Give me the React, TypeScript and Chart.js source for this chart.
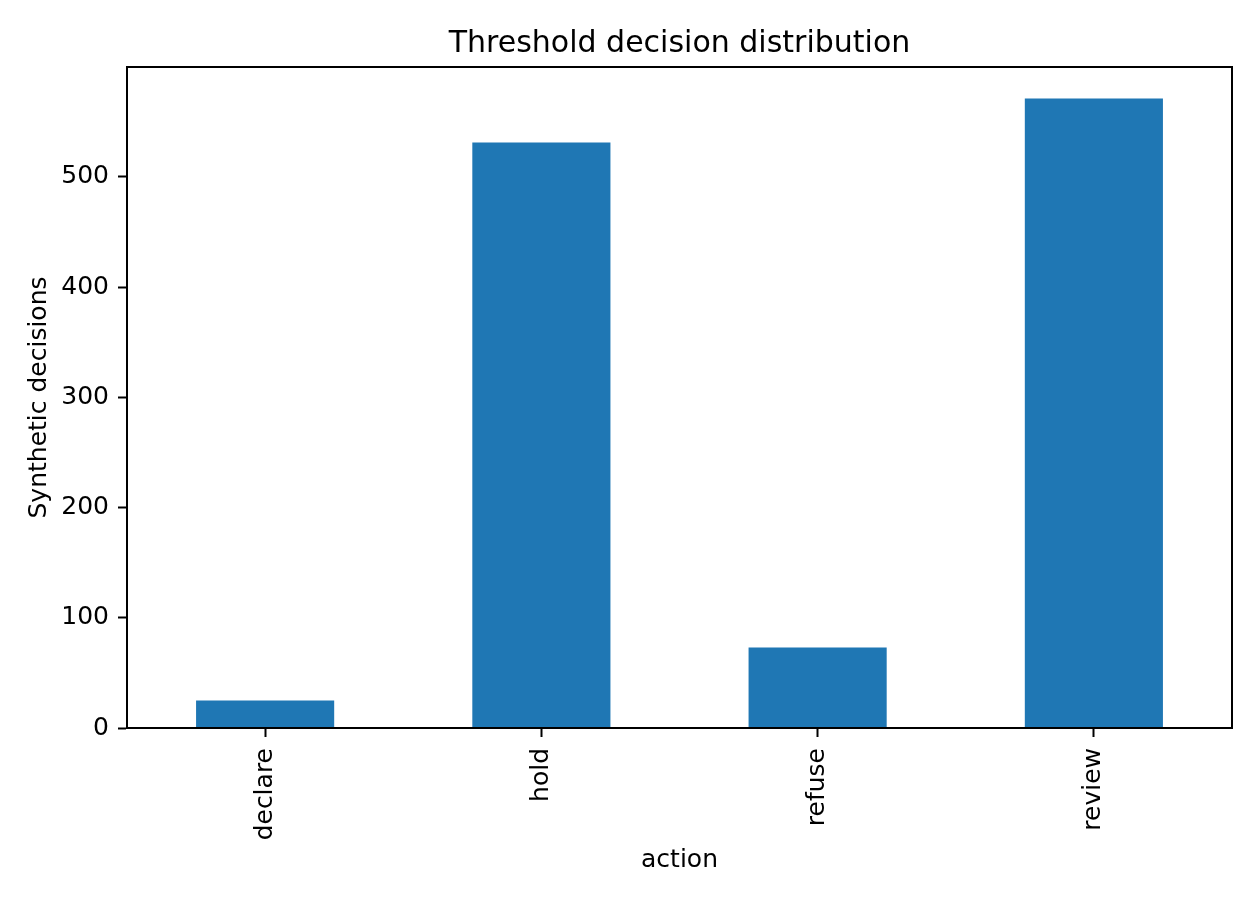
import React, { useEffect, useRef } from "react";
import { Chart, registerables } from "chart.js";

Chart.register(...registerables);

const categories = ["declare", "hold", "refuse", "review"];
const decisionCounts = [25, 531, 73, 571];
const yTickValues = [0, 100, 200, 300, 400, 500];
const yMax = 599.55;

const titleText = "Threshold decision distribution";
const xTitleText = "action";
const yTitleText = "Synthetic decisions";

const FONT = "'DejaVu Sans', sans-serif";

const framePlugin = {
  id: "frameAndTitles",
  afterDraw(chart: any) {
    const { ctx, chartArea } = chart;
    const { left, right, top, bottom } = chartArea;
    ctx.save();
    // axes box
    ctx.strokeStyle = "#000";
    ctx.lineWidth = 2;
    ctx.strokeRect(left, top, right - left, bottom - top);

    ctx.fillStyle = "#000";
    // title
    ctx.font = `30px ${FONT}`;
    ctx.textAlign = "center";
    ctx.textBaseline = "alphabetic";
    ctx.fillText(titleText, (left + right) / 2, 52);

    // x axis title
    ctx.font = `25px ${FONT}`;
    ctx.fillText(xTitleText, (left + right) / 2, 867);

    // y axis title
    ctx.translate(46, (top + bottom) / 2);
    ctx.rotate(-Math.PI / 2);
    ctx.fillText(yTitleText, 0, 0);
    ctx.restore();
  },
};

export default function App() {
  const canvasRef = useRef<HTMLCanvasElement | null>(null);

  useEffect(() => {
    if (!canvasRef.current) return;
    const chart = new Chart(canvasRef.current, {
      type: "bar",
      data: {
        labels: categories,
        datasets: [
          {
            data: decisionCounts,
            backgroundColor: "#1f77b4",
            borderWidth: 0,
            categoryPercentage: 1,
            barPercentage: 0.5,
          },
        ],
      },
      options: {
        responsive: false,
        animation: false,
        layout: { padding: { left: 0, top: 67, right: 28, bottom: 0 } },
        plugins: {
          legend: { display: false },
          title: { display: false },
          tooltip: { enabled: false },
        },
        scales: {
          x: {
            afterFit: (scale: any) => {
              scale.height = 172;
            },
            grid: {
              offset: false,
              drawOnChartArea: false,
              drawTicks: true,
              tickLength: 9,
              tickColor: "#000",
              tickWidth: 2,
            },
            border: { display: true, color: "#000", width: 2 },
            ticks: {
              autoSkip: false,
              minRotation: 90,
              maxRotation: 90,
              padding: 11,
              color: "#000",
              font: { family: FONT, size: 25 },
            },
          },
          y: {
            min: 0,
            max: yMax,
            afterBuildTicks: (scale: any) => {
              scale.ticks = yTickValues.map((v) => ({ value: v }));
            },
            afterFit: (scale: any) => {
              scale.width = 127;
            },
            grid: {
              drawOnChartArea: false,
              drawTicks: true,
              tickLength: 9,
              tickColor: "#000",
              tickWidth: 2,
            },
            border: { display: true, color: "#000", width: 2 },
            ticks: {
              padding: 9,
              color: "#000",
              font: { family: FONT, size: 25 },
              callback: (value: any) => String(value),
            },
          },
        },
      },
      plugins: [framePlugin],
    });
    return () => chart.destroy();
  }, []);

  return (
    <div style={{ position: "fixed", left: 0, top: 0, width: 1260, height: 900, background: "#fff" }}>
      <canvas ref={canvasRef} width={1260} height={900} style={{ display: "block" }} />
    </div>
  );
}
